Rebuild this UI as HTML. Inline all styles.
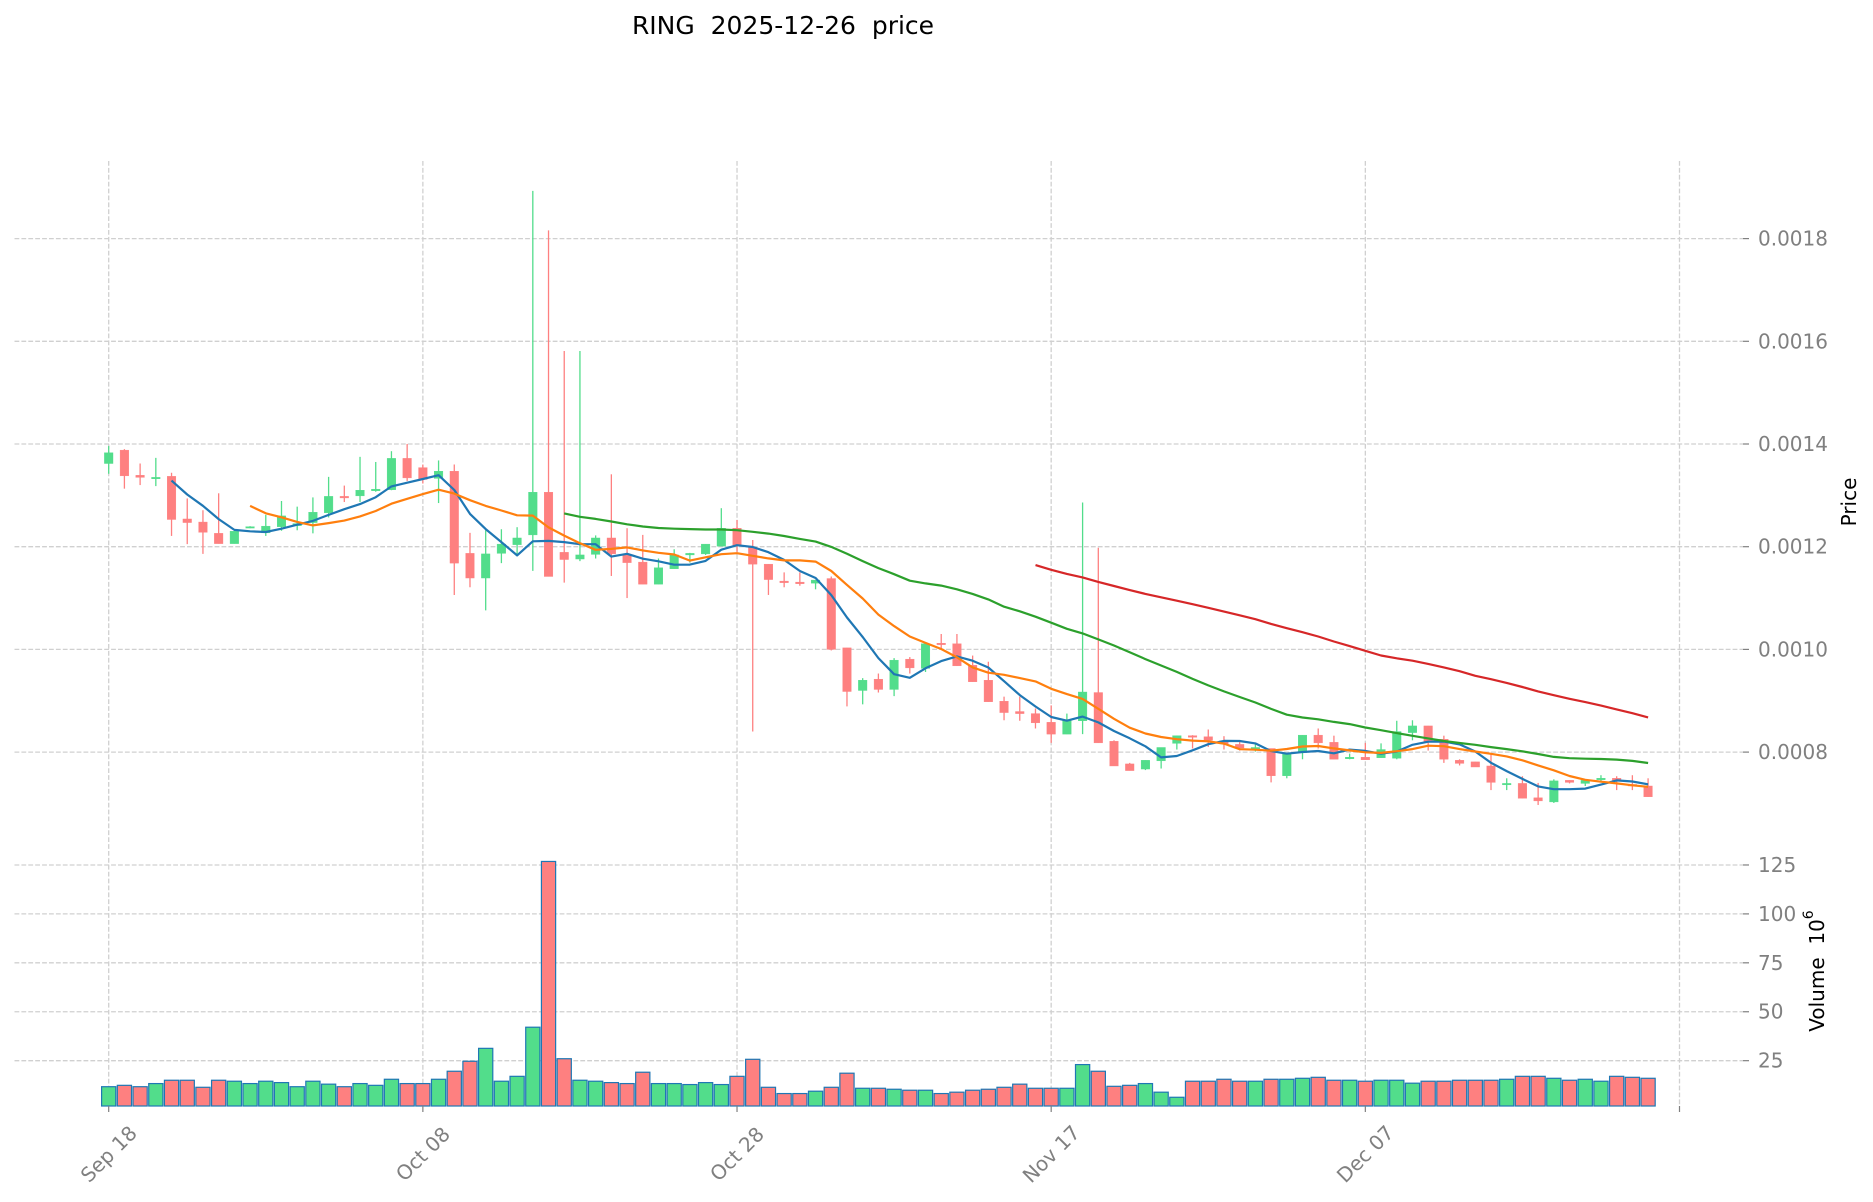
<!DOCTYPE html>
<html>
<head>
<meta charset="utf-8">
<style>
  html, body { margin:0; padding:0; background:#ffffff; }
  svg { display:block; }
  text { font-family: "DejaVu Sans", "Liberation Sans", sans-serif; }
</style>
</head>
<body>
<svg id="chart" xmlns="http://www.w3.org/2000/svg" width="1873" height="1202" viewBox="0 0 1873 1202">
  <rect x="0" y="0" width="1873" height="1202" fill="#ffffff"/>
  <g id="grid"></g>
  <g id="vol"></g>
  <g id="candles"></g>
  <g id="mas"></g>
  <g id="ticks"></g>

  <!-- Title -->
  <text x="783" y="34" text-anchor="middle" font-size="25" fill="#000" style="white-space:pre">RING  2025-12-26  price</text>

  <!-- Right price tick labels -->
  <g font-size="20" fill="#808080">
    <text x="1758" y="238.6" dominant-baseline="central">0.0018</text>
    <text x="1758" y="341.3" dominant-baseline="central">0.0016</text>
    <text x="1758" y="444.0" dominant-baseline="central">0.0014</text>
    <text x="1758" y="546.7" dominant-baseline="central">0.0012</text>
    <text x="1758" y="649.4" dominant-baseline="central">0.0010</text>
    <text x="1758" y="752.1" dominant-baseline="central">0.0008</text>
    <text x="1758" y="865.0" dominant-baseline="central">125</text>
    <text x="1758" y="913.9" dominant-baseline="central">100</text>
    <text x="1758" y="962.8" dominant-baseline="central">75</text>
    <text x="1758" y="1011.7" dominant-baseline="central">50</text>
    <text x="1758" y="1060.7" dominant-baseline="central">25</text>
  </g>

  <!-- Axis labels -->
  <text transform="translate(1849,502) rotate(-90)" text-anchor="middle" dominant-baseline="central" font-size="20" fill="#000">Price</text>
  <text transform="translate(1817,971) rotate(-90)" text-anchor="middle" dominant-baseline="central" font-size="20" fill="#000" style="white-space:pre">Volume  10<tspan font-size="14" dy="-8">6</tspan></text>

  <!-- X tick labels -->
  <g font-size="20" fill="#808080">
    <text x="108.7" y="1154" text-anchor="middle" dominant-baseline="central" transform="rotate(-45 108.7 1154)">Sep 18</text>
    <text x="422.9" y="1154" text-anchor="middle" dominant-baseline="central" transform="rotate(-45 422.9 1154)">Oct 08</text>
    <text x="737.0" y="1154" text-anchor="middle" dominant-baseline="central" transform="rotate(-45 737.0 1154)">Oct 28</text>
    <text x="1051.2" y="1154" text-anchor="middle" dominant-baseline="central" transform="rotate(-45 1051.2 1154)">Nov 17</text>
    <text x="1365.3" y="1154" text-anchor="middle" dominant-baseline="central" transform="rotate(-45 1365.3 1154)">Dec 07</text>
  </g>
</svg>

<script>
(function(){
  var NS = "http://www.w3.org/2000/svg";
  function el(tag, attrs, parent){
    var e = document.createElementNS(NS, tag);
    for (var k in attrs) e.setAttribute(k, attrs[k]);
    parent.appendChild(e);
    return e;
  }
  // [open, high, low, close] in 1e-3 units
  var D = [
    [1.362,1.396,1.342,1.383],[1.388,1.390,1.313,1.338],[1.339,1.362,1.320,1.335],[1.334,1.373,1.318,1.335],
    [1.337,1.344,1.221,1.253],[1.254,1.294,1.205,1.247],[1.248,1.271,1.186,1.228],[1.226,1.304,1.206,1.206],
    [1.206,1.230,1.206,1.230],[1.238,1.240,1.236,1.239],[1.227,1.262,1.221,1.240],[1.239,1.289,1.231,1.260],
    [1.241,1.278,1.232,1.245],[1.247,1.296,1.226,1.267],[1.266,1.336,1.257,1.298],[1.298,1.319,1.287,1.295],
    [1.299,1.375,1.287,1.310],[1.309,1.365,1.307,1.312],[1.311,1.386,1.310,1.372],[1.372,1.400,1.328,1.334],
    [1.354,1.360,1.323,1.331],[1.333,1.368,1.285,1.347],[1.347,1.360,1.106,1.168],[1.187,1.227,1.121,1.139],
    [1.139,1.232,1.076,1.186],[1.187,1.234,1.168,1.205],[1.204,1.238,1.184,1.217],[1.223,1.893,1.153,1.306],
    [1.306,1.816,1.142,1.142],[1.189,1.581,1.130,1.175],[1.176,1.581,1.172,1.184],[1.185,1.222,1.177,1.217],
    [1.217,1.341,1.143,1.186],[1.184,1.236,1.100,1.169],[1.170,1.223,1.127,1.127],[1.127,1.177,1.127,1.159],
    [1.157,1.195,1.157,1.184],[1.184,1.188,1.169,1.187],[1.186,1.205,1.184,1.205],[1.201,1.275,1.201,1.236],
    [1.236,1.252,1.190,1.203],[1.199,1.213,0.840,1.166],[1.166,1.166,1.106,1.136],[1.133,1.150,1.121,1.130],
    [1.131,1.150,1.124,1.128],[1.129,1.135,1.117,1.135],[1.138,1.142,0.998,1.000],[1.003,1.003,0.889,0.918],
    [0.920,0.944,0.893,0.940],[0.942,0.953,0.916,0.922],[0.922,0.983,0.909,0.979],[0.981,0.985,0.953,0.964],
    [0.963,1.011,0.956,1.011],[1.012,1.030,1.000,1.010],[1.011,1.030,0.968,0.968],[0.969,0.988,0.937,0.937],
    [0.940,0.976,0.898,0.898],[0.899,0.908,0.862,0.877],[0.879,0.908,0.861,0.875],[0.875,0.885,0.846,0.857],
    [0.858,0.891,0.818,0.835],[0.835,0.875,0.835,0.862],[0.861,1.286,0.835,0.917],[0.916,1.198,0.818,0.818],
    [0.821,0.823,0.773,0.773],[0.777,0.779,0.764,0.764],[0.767,0.784,0.765,0.784],[0.783,0.809,0.768,0.809],
    [0.817,0.832,0.805,0.832],[0.832,0.833,0.807,0.829],[0.830,0.844,0.810,0.823],[0.822,0.831,0.805,0.816],
    [0.815,0.820,0.803,0.808],[0.806,0.816,0.801,0.809],[0.807,0.807,0.741,0.754],[0.754,0.797,0.749,0.797],
    [0.799,0.833,0.786,0.833],[0.833,0.846,0.807,0.818],[0.819,0.832,0.786,0.786],[0.787,0.797,0.786,0.790],
    [0.790,0.818,0.785,0.785],[0.789,0.817,0.789,0.805],[0.788,0.861,0.786,0.840],[0.838,0.862,0.823,0.851],
    [0.851,0.851,0.803,0.820],[0.825,0.832,0.779,0.786],[0.784,0.786,0.774,0.778],[0.781,0.781,0.771,0.771],
    [0.773,0.797,0.726,0.741],[0.737,0.749,0.726,0.739],[0.739,0.753,0.710,0.710],[0.711,0.740,0.697,0.705],
    [0.703,0.747,0.701,0.744],[0.745,0.745,0.739,0.741],[0.739,0.747,0.734,0.745],[0.747,0.755,0.742,0.749],
    [0.749,0.753,0.726,0.745],[0.737,0.755,0.726,0.734],[0.734,0.749,0.713,0.713]
  ];
  var V = [11.7,12.4,11.7,13.3,15.0,15.0,11.4,15.0,14.5,13.3,14.5,13.8,11.7,14.5,13.0,11.7,13.3,12.4,15.5,13.3,
           13.3,15.5,19.6,24.7,31.3,14.5,17.0,42.1,126.8,26.0,15.0,14.5,13.8,13.3,19.1,13.3,13.3,12.8,13.8,12.8,
           17.0,25.7,11.4,8.2,8.2,9.4,11.4,18.6,10.9,10.9,10.4,9.9,9.9,8.2,8.9,9.9,10.4,11.4,13.0,10.9,
           10.9,10.9,23.0,19.6,11.9,12.4,13.3,8.9,6.3,14.5,14.5,15.5,14.5,14.5,15.5,15.5,16.0,16.5,15.0,15.0,
           14.5,15.0,15.0,13.5,14.5,14.5,15.0,15.0,15.0,15.5,17.0,17.0,16.0,15.0,15.5,14.5,17.0,16.5,16.0];

  var UP = "#52dd8b", DOWN = "#fe8080";
  function X(i){ return 108.7 + 15.708*i; }
  function Y(p){ return 238.6 + (1.8 - p)*513.5; }
  function VY(v){ return 1109.6 - 1.957*v; }
  var LEFT = 14.5, RIGHT = 1743, TOP = 161, BOT = 1106;

  var grid = document.getElementById("grid");
  var gs = {stroke:"#d0d0d0","stroke-width":"1.3","stroke-dasharray":"4.8 2.1",fill:"none"};
  function gline(x1,y1,x2,y2){
    var a = {x1:x1,y1:y1,x2:x2,y2:y2};
    for (var k in gs) a[k]=gs[k];
    el("line", a, grid);
  }
  var ticks = document.getElementById("ticks");
  var hy = [];
  for (var p=0.8; p<=1.8001; p+=0.2) hy.push(Y(p));
  [25,50,75,100,125].forEach(function(v){ hy.push(VY(v)); });
  hy.forEach(function(y){
    gline(LEFT,y,RIGHT,y);
    el("line",{x1:RIGHT,y1:y,x2:RIGHT+6,y2:y,stroke:"#808080","stroke-width":"1.2"},ticks);
  });
  for (var t=0; t<=100; t+=20){
    var x = X(t);
    gline(x,TOP,x,BOT);
    el("line",{x1:x,y1:BOT,x2:x,y2:BOT+6,stroke:"#808080","stroke-width":"1.2"},ticks);
  }

  // Volume bars
  var vg = document.getElementById("vol");
  for (var i=0;i<V.length;i++){
    var d = D[i], col = d[3]>=d[0]?UP:DOWN;
    var y = VY(V[i]);
    el("rect",{x:X(i)-7.1,y:y,width:14.2,height:Math.max(0,BOT-y),fill:col,stroke:"#1f77b4","stroke-width":"1.2"},vg);
  }

  // Candles
  var cg = document.getElementById("candles");
  for (var i=0;i<D.length;i++){
    var d = D[i], o=d[0], h=d[1], l=d[2], c=d[3];
    var col = c>=o?UP:DOWN;
    var x = X(i);
    el("line",{x1:x,y1:Y(h),x2:x,y2:Y(l),stroke:col,"stroke-width":"1.3"},cg);
    var yt = Y(Math.max(o,c)), yb = Y(Math.min(o,c));
    var hh = Math.max(1.4, yb-yt);
    el("rect",{x:x-4.3,y:yt,width:8.6,height:hh,fill:col,stroke:col,"stroke-width":"0.4"},cg);
  }

  // Moving averages
  var mg = document.getElementById("mas");
  [[5,"#1f77b4"],[10,"#ff7f0e"],[30,"#2ca02c"],[60,"#d62728"]].forEach(function(m){
    var n=m[0], pts=[];
    for (var i=n-1;i<D.length;i++){
      var s=0; for (var j=i-n+1;j<=i;j++) s+=D[j][3];
      pts.push(X(i).toFixed(1)+","+Y(s/n).toFixed(1));
    }
    el("polyline",{points:pts.join(" "),fill:"none",stroke:m[1],"stroke-width":"2.2","stroke-linejoin":"round","stroke-linecap":"butt"},mg);
  });
})();
</script>
</body>
</html>
